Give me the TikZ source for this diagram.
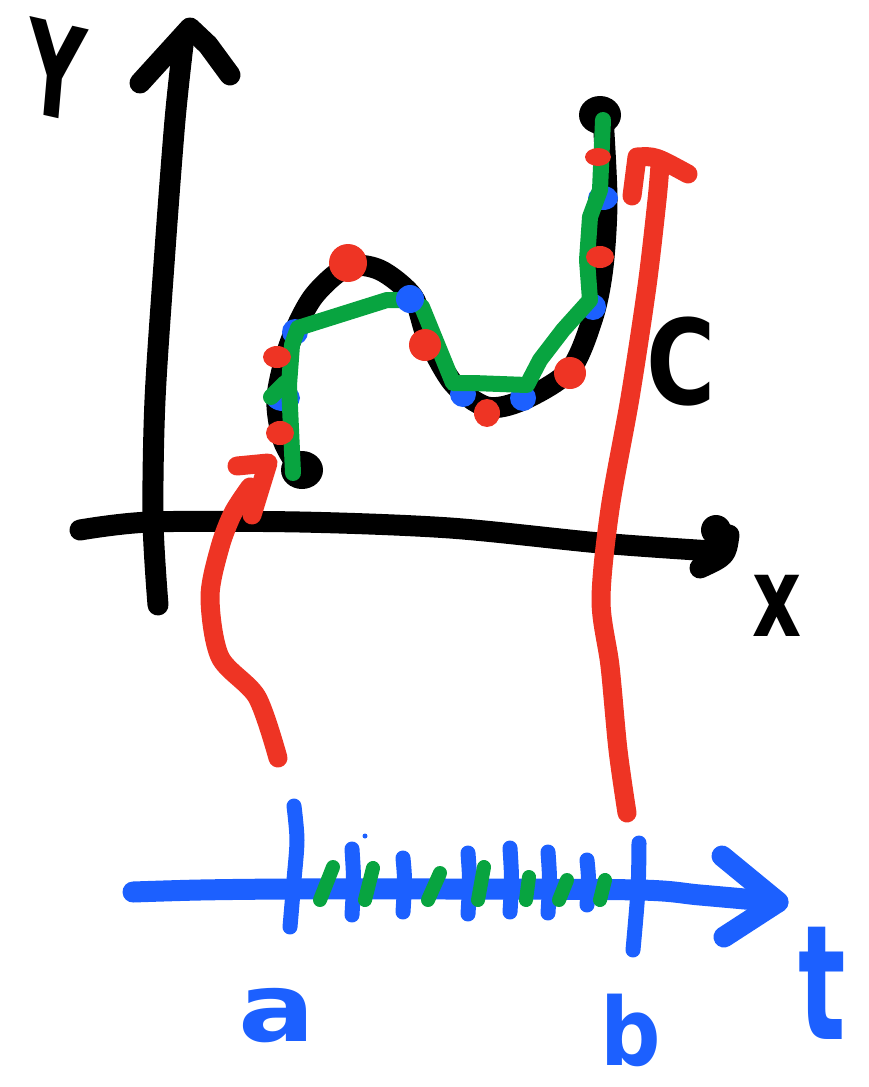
\documentclass[tikz,border=0pt]{standalone}
\usepackage{fontspec}
\newfontfamily\handfont{DejaVu Sans}
\definecolor{pred}{RGB}{238,52,36}
\definecolor{pblue}{RGB}{28,96,255}
\definecolor{pgreen}{RGB}{8,164,64}
\begin{document}
\begin{tikzpicture}[x=1pt,y=-1pt, line cap=round, line join=round,
  ink/.style={line width=21pt, black},
  redink/.style={line width=19pt, pred},
  greenink/.style={line width=16pt, pgreen},
  blueink/.style={line width=21pt, pblue},
  tickb/.style={line width=15pt, pblue},
  tickg/.style={line width=14pt, pgreen},
  bdot/.style={fill=pblue},
  rdot/.style={fill=pred},
  lbl/.style={inner sep=0pt, font=\handfont\bfseries}]
\useasboundingbox (0,0) rectangle (868,1087);

% ---------- axes ----------
\draw[ink] plot[smooth] coordinates {(158,605) (153,520) (155,400) (165,250) (175,120) (183,45)};
\draw[ink] (140,83) -- (190,28) -- (208,45) -- (230,75);
\draw[ink] plot[smooth] coordinates {(80,530) (150,522) (300,522) (450,528) (600,543) (712,551)};
\fill (716,530) circle (15pt);
\draw[ink] (729,535) .. controls (726,556) .. (700,568);

\node[lbl, font=\handfont\bfseries\fontsize{130}{130}\selectfont, xscale=0.62, rotate=-8] (ylab) at (55,70) {Y};
\node[lbl, font=\handfont\bfseries\fontsize{112}{112}\selectfont, xscale=0.68] (xlab) at (777,606) {x};
\node[lbl, font=\handfont\bfseries\fontsize{118}{118}\selectfont, xscale=0.8] (clab) at (681,362) {C};

% ---------- curve ----------
\draw[ink] plot[smooth] coordinates {(300,470) (283,440) (277,397) (290,343) (313,297) (347,267) (380,270) (413,297) (427,337) (453,383) (487,407) (523,400) (570,370) (593,317) (603,267) (607,200) (603,117)};
\fill (302,470) ellipse (21pt and 19pt);
\fill (600,115) ellipse (21pt and 19pt);

% blue sample points (under green)
\fill[bdot] (295,332) circle (13pt);
\fill[bdot] (283,398) ellipse (17pt and 13pt);
\fill[bdot] (463,394) circle (13pt);
\fill[bdot] (523,398) circle (13pt);
\fill[bdot] (593,307) circle (13pt);
\fill[bdot] (603,198) ellipse (15pt and 12pt);

% green polygonal approximation
\draw[greenink] (293,473) -- (289,385) -- (292,345) -- (298,328) -- (387,300) -- (410,300) -- (422,307) -- (453,383) -- (473,383) -- (527,385) -- (540,360) -- (563,330) -- (590,300) -- (587,260) -- (590,217) -- (600,190) -- (603,120);
\draw[greenink] (271,397) -- (285,383);
\fill[bdot] (410,299) circle (14pt);

% red points
\fill[rdot] (348,263) circle (19pt);
\fill[rdot] (277,357) ellipse (14pt and 11pt);
\fill[rdot] (280,433) ellipse (14pt and 12pt);
\fill[rdot] (425,345) circle (16pt);
\fill[rdot] (487,413) ellipse (13pt and 14pt);
\fill[rdot] (570,373) circle (16pt);
\fill[rdot] (600,257) ellipse (14pt and 11pt);
\fill[rdot] (598,157) ellipse (13pt and 9pt);

% ---------- red mapping arrows ----------
\draw[redink] plot[smooth] coordinates {(278,758) (257,697) (220,657) (210,597) (220,547) (233,513) (250,487)};
\draw[redink] (237,466) -- (268,463) -- (252,515);
\draw[redink] plot[smooth] coordinates {(627,813) (618,750) (610,666) (601,600) (610,509) (630,398) (647,286) (657,200) (660,165)};
\draw[redink] (632,196) -- (637,157) .. controls (655,156) .. (688,174);

% ---------- t axis ----------
\draw[blueink] plot[smooth] coordinates {(133,892) (200,890) (290,889) (450,889) (640,890) (700,895) (778,902)};
\draw[blueink] (722,856) -- (778,902) -- (724,937);
\draw[tickb] plot[smooth] coordinates {(294,806) (297,840) (294,880) (290,927)};
\draw[tickb] plot[smooth] coordinates {(639,843) (638,890) (633,950)};
\foreach \x/\a/\b in {352/849/915, 403/858/912, 468/853/914, 510/848/912, 548/852/913, 587/860/905}
  \draw[tickb] (\x,\a) .. controls (\x+2,880) .. (\x,\b);
\foreach \x/\a/\b in {333/867/320, 373/868/365, 440/873/428, 484/867/478, 529/877/526, 567/880/559, 605/880/600}
  \draw[tickg] (\x,\a) -- (\b,900);
\fill[pblue] (365,836) circle (2.5pt);

\node[lbl, text=pblue, font=\handfont\bfseries\fontsize{95}{95}\selectfont, xscale=1.2] (alab) at (277,1016) {a};
\node[lbl, text=pblue, font=\handfont\bfseries\fontsize{94}{94}\selectfont, xscale=0.9] (blab) at (631,1030) {b};
\node[lbl, text=pblue, font=\handfont\bfseries\fontsize{160}{160}\selectfont, xscale=0.62] (tlab) at (822,983) {t};
\end{tikzpicture}
\end{document}
